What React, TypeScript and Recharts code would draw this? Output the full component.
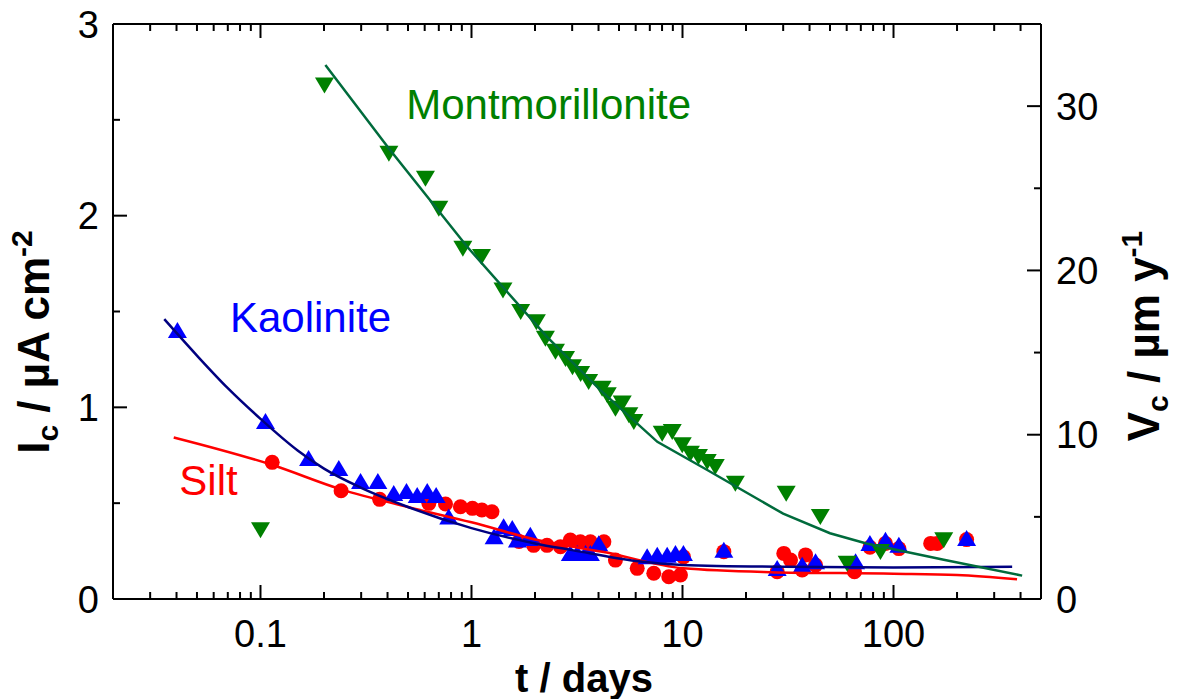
import React from 'react';
import { ComposedChart, XAxis, YAxis, Scatter, Line, ReferenceDot, Label } from 'recharts';

const FONT = '"Liberation Sans", Arial, Helvetica, sans-serif';

// x axis ticks (days, log scale)
const xTicks = [0.03, 0.04, 0.05, 0.06, 0.07, 0.08, 0.09, 0.1, 0.2, 0.3, 0.4, 0.5, 0.6, 0.7, 0.8, 0.9, 1, 2, 3, 4, 5, 6, 7, 8, 9, 10, 20, 30, 40, 50, 60, 70, 80, 90, 100, 200, 300, 400];
const xMajor = [0.1, 1, 10, 100];
const xLabels = ['0.1', '1', '10', '100'];
// left axis (µA cm-2)
const iTicks = [0, 0.5, 1, 1.5, 2, 2.5, 3];
const iMajor = [0, 1, 2, 3];
// right axis (µm y-1)
const vTicks = [0, 5, 10, 15, 20, 25, 30, 35];
const vMajor = [0, 10, 20, 30];

// Kaolinite
const kaoT = [0.0404, 0.1056, 0.169, 0.235, 0.298, 0.36, 0.428, 0.492, 0.553, 0.617, 0.68, 0.78, 1.28, 1.42, 1.56, 1.65, 1.87, 1.9, 2.94, 3.17, 3.47, 3.66, 4.01, 6.8, 7.59, 8.46, 9.26, 10.1, 15.7, 28.1, 36.9, 42.7, 66.1, 77.3, 91.6, 106, 222];
const kaoI = [1.393, 0.918, 0.725, 0.673, 0.605, 0.605, 0.542, 0.553, 0.532, 0.553, 0.532, 0.42, 0.317, 0.369, 0.36, 0.30, 0.308, 0.325, 0.23, 0.23, 0.23, 0.23, 0.28, 0.212, 0.22, 0.22, 0.23, 0.23, 0.247, 0.151, 0.168, 0.186, 0.186, 0.282, 0.299, 0.273, 0.308];
// Silt
const siltT = [0.1136, 0.241, 0.367, 0.628, 0.753, 0.887, 1.01, 1.12, 1.25, 1.68, 1.97, 2.28, 2.64, 2.94, 3.28, 3.66, 4.24, 4.81, 6.1, 7.31, 8.61, 9.78, 10.1, 15.7, 28.1, 30.2, 32.5, 36.9, 38.3, 42.7, 65.3, 77.3, 91.6, 106, 150, 161, 222];
const siltI = [0.713, 0.565, 0.52, 0.499, 0.496, 0.481, 0.473, 0.464, 0.455, 0.30, 0.28, 0.28, 0.273, 0.308, 0.299, 0.299, 0.299, 0.203, 0.16, 0.134, 0.116, 0.125, 0.22, 0.247, 0.142, 0.238, 0.203, 0.151, 0.23, 0.177, 0.142, 0.27, 0.29, 0.263, 0.29, 0.29, 0.31];
// Montmorillonite
const montT = [0.1, 0.201, 0.406, 0.605, 0.70, 0.91, 1.115, 1.41, 1.71, 2.03, 2.24, 2.5, 2.79, 3.01, 3.29, 3.59, 4.16, 4.4, 4.81, 5.18, 5.57, 5.88, 8.01, 8.94, 9.97, 10.9, 11.9, 13.1, 14.3, 17.8, 31, 45, 60.3, 86.7, 173];
const montI = [0.369, 2.69, 2.333, 2.203, 2.046, 1.838, 1.795, 1.62, 1.508, 1.455, 1.368, 1.3, 1.262, 1.22, 1.184, 1.142, 1.107, 1.073, 1.003, 1.03, 0.969, 0.934, 0.873, 0.882, 0.812, 0.768, 0.751, 0.725, 0.699, 0.612, 0.56, 0.438, 0.195, 0.256, 0.317];

// fitted curves
const kaoFitT = [0.035, 0.05, 0.07, 0.1, 0.15, 0.2, 0.3, 0.5, 1.0, 2, 3, 6, 10, 30, 100, 365];
const kaoFitI = [1.46, 1.27, 1.1, 0.94, 0.775, 0.68, 0.58, 0.48, 0.37, 0.29, 0.255, 0.198, 0.178, 0.168, 0.165, 0.168];
const siltFitT = [0.0388, 0.114, 0.241, 0.5, 1.0, 2.05, 4.24, 10.1, 26, 100, 200, 385];
const siltFitI = [0.843, 0.699, 0.572, 0.48, 0.40, 0.308, 0.245, 0.16, 0.14, 0.132, 0.125, 0.103];
const montFitT = [0.203, 0.406, 0.954, 2.28, 4.08, 7.6, 13.1, 30, 50, 74.4, 173, 407];
const montFitI = [2.786, 2.351, 1.838, 1.368, 1.09, 0.82, 0.673, 0.445, 0.343, 0.29, 0.205, 0.122];

const pts = (t: number[], v: number[]) => t.map((x, i) => ({ x, y: v[i] }));
const kao = pts(kaoT, kaoI);
const silt = pts(siltT, siltI);
const mont = pts(montT, montI);
const kaoFit = pts(kaoFitT, kaoFitI);
const siltFit = pts(siltFitT, siltFitI);
const montFit = pts(montFitT, montFitI);

const RED = '#FF0000';
const BLUE = '#0000FF';
const GREEN = '#008000';
const axisStyle = { stroke: '#000', strokeWidth: 2 };

const CircleShape = (p: any) => <circle cx={p.cx} cy={p.cy} r={7.5} fill={RED} />;
const TriUp = (p: any) => (
  <polygon points={`${p.cx},${p.cy - 10} ${p.cx + 9.5},${p.cy + 6} ${p.cx - 9.5},${p.cy + 6}`} fill={BLUE} />
);
const TriDown = (p: any) => (
  <polygon points={`${p.cx},${p.cy + 10} ${p.cx + 9.5},${p.cy - 6} ${p.cx - 9.5},${p.cy - 6}`} fill={GREEN} />
);

const isIn = (arr: number[], v: number) => arr.some((a) => Math.abs(a - v) < 1e-9);

const BottomTick = (p: any) => {
  const v = p.payload.value;
  const idx = xMajor.findIndex((a) => Math.abs(a - v) < 1e-9);
  const major = idx >= 0;
  return (
    <g>
      <line x1={p.x} x2={p.x} y1={p.y} y2={p.y - (major ? 14 : 7)} stroke="#000" strokeWidth={2} />
      {major && (
        <text x={p.x} y={p.y + 48} textAnchor="middle" fontSize={38} fontFamily={FONT} fill="#000">
          {xLabels[idx]}
        </text>
      )}
    </g>
  );
};
const TopTick = (p: any) => {
  const major = isIn(xMajor, p.payload.value);
  return <line x1={p.x} x2={p.x} y1={p.y} y2={p.y + (major ? 14 : 7)} stroke="#000" strokeWidth={2} />;
};
const LeftTick = (p: any) => {
  const v = p.payload.value;
  const major = isIn(iMajor, v);
  return (
    <g>
      <line x1={p.x} x2={p.x + (major ? 14 : 7)} y1={p.y} y2={p.y} stroke="#000" strokeWidth={2} />
      {major && (
        <text x={p.x - 14} y={p.y} dy="0.36em" textAnchor="end" fontSize={38} fontFamily={FONT} fill="#000">
          {String(v)}
        </text>
      )}
    </g>
  );
};
const RightTick = (p: any) => {
  const v = p.payload.value;
  const major = isIn(vMajor, v);
  return (
    <g>
      <line x1={p.x} x2={p.x - (major ? 14 : 7)} y1={p.y} y2={p.y} stroke="#000" strokeWidth={2} />
      {major && (
        <text x={p.x + 15} y={p.y} dy="0.36em" textAnchor="start" fontSize={38} fontFamily={FONT} fill="#000">
          {String(v)}
        </text>
      )}
    </g>
  );
};

const XTitle = () => (
  <text x={584} y={692} textAnchor="middle" fontSize={40} fontWeight="bold" fontFamily={FONT} fill="#000">
    t / days
  </text>
);
const LeftTitle = () => (
  <text transform="translate(49, 342) rotate(-90)" textAnchor="middle" fontSize={44} fontWeight="bold" fontFamily={FONT} fill="#000">
    I<tspan fontSize={30} dy={9}>c</tspan>
    <tspan dy={-9}> / µA cm</tspan>
    <tspan fontSize={30} dy={-17}>-2</tspan>
  </text>
);
const RightTitle = () => (
  <text transform="translate(1159, 336) rotate(-90)" textAnchor="middle" fontSize={44} fontWeight="bold" fontFamily={FONT} fill="#000">
    V<tspan fontSize={30} dy={9}>c</tspan>
    <tspan dy={-9}> / µm y</tspan>
    <tspan fontSize={30} dy={-17}>-1</tspan>
  </text>
);

const annot = (text: string, color: string) => (p: any) => (
  <text x={p.cx} y={p.cy} textAnchor="middle" fontSize={42} fontFamily={FONT} fill={color}>
    {text}
  </text>
);

export default function App() {
  return (
    <div style={{ position: 'absolute', left: 0, top: 0, width: 1177, height: 699, background: '#fff' }}>
      <ComposedChart width={1177} height={699} margin={{ top: 23, right: 0, bottom: 0, left: 0 }}>
        <XAxis
          xAxisId="b"
          dataKey="x"
          type="number"
          scale="log"
          domain={[0.02, 500]}
          allowDataOverflow
          ticks={xTicks}
          interval={0}
          height={100}
          tickSize={0}
          tickMargin={0}
          tickLine={false}
          axisLine={axisStyle}
          tick={BottomTick}
        >
          <Label content={XTitle} />
        </XAxis>
        <XAxis
          xAxisId="t"
          orientation="top"
          dataKey="x"
          type="number"
          scale="log"
          domain={[0.02, 500]}
          allowDataOverflow
          ticks={xTicks}
          interval={0}
          height={1}
          tickSize={0}
          tickMargin={0}
          tickLine={false}
          axisLine={axisStyle}
          tick={TopTick}
        />
        <YAxis
          yAxisId="l"
          dataKey="y"
          type="number"
          domain={[0, 3]}
          allowDataOverflow
          ticks={iTicks}
          interval={0}
          width={113}
          tickSize={0}
          tickMargin={0}
          tickLine={false}
          axisLine={axisStyle}
          tick={LeftTick}
        >
          <Label content={LeftTitle} />
        </YAxis>
        <YAxis
          yAxisId="r"
          orientation="right"
          type="number"
          domain={[0, 35]}
          allowDataOverflow
          ticks={vTicks}
          interval={0}
          width={136}
          tickSize={0}
          tickMargin={0}
          tickLine={false}
          axisLine={axisStyle}
          tick={RightTick}
        >
          <Label content={RightTitle} />
        </YAxis>

        <Scatter xAxisId="b" yAxisId="l" data={silt} dataKey="y" shape={CircleShape} fill={RED} isAnimationActive={false} />
        <Scatter xAxisId="b" yAxisId="l" data={kao} dataKey="y" shape={TriUp} fill={BLUE} isAnimationActive={false} />
        <Scatter xAxisId="b" yAxisId="l" data={mont} dataKey="y" shape={TriDown} fill={GREEN} isAnimationActive={false} />

        <Line xAxisId="b" yAxisId="l" data={siltFit} dataKey="y" type="monotone" stroke={RED} strokeWidth={2.5} dot={false} activeDot={false} isAnimationActive={false} zIndex={700} />
        <Line xAxisId="b" yAxisId="l" data={kaoFit} dataKey="y" type="monotone" stroke="#000080" strokeWidth={2.5} dot={false} activeDot={false} isAnimationActive={false} zIndex={700} />
        <Line xAxisId="b" yAxisId="l" data={montFit} dataKey="y" type="linear" stroke="#006B3C" strokeWidth={2.5} dot={false} activeDot={false} isAnimationActive={false} zIndex={700} />

        <ReferenceDot xAxisId="b" yAxisId="l" x={2.32} y={2.504} r={1} shape={annot('Montmorillonite', GREEN)} />
        <ReferenceDot xAxisId="b" yAxisId="l" x={0.1726} y={1.393} r={1} shape={annot('Kaolinite', BLUE)} />
        <ReferenceDot xAxisId="b" yAxisId="l" x={0.0567} y={0.5425} r={1} shape={annot('Silt', RED)} />
      </ComposedChart>
    </div>
  );
}
